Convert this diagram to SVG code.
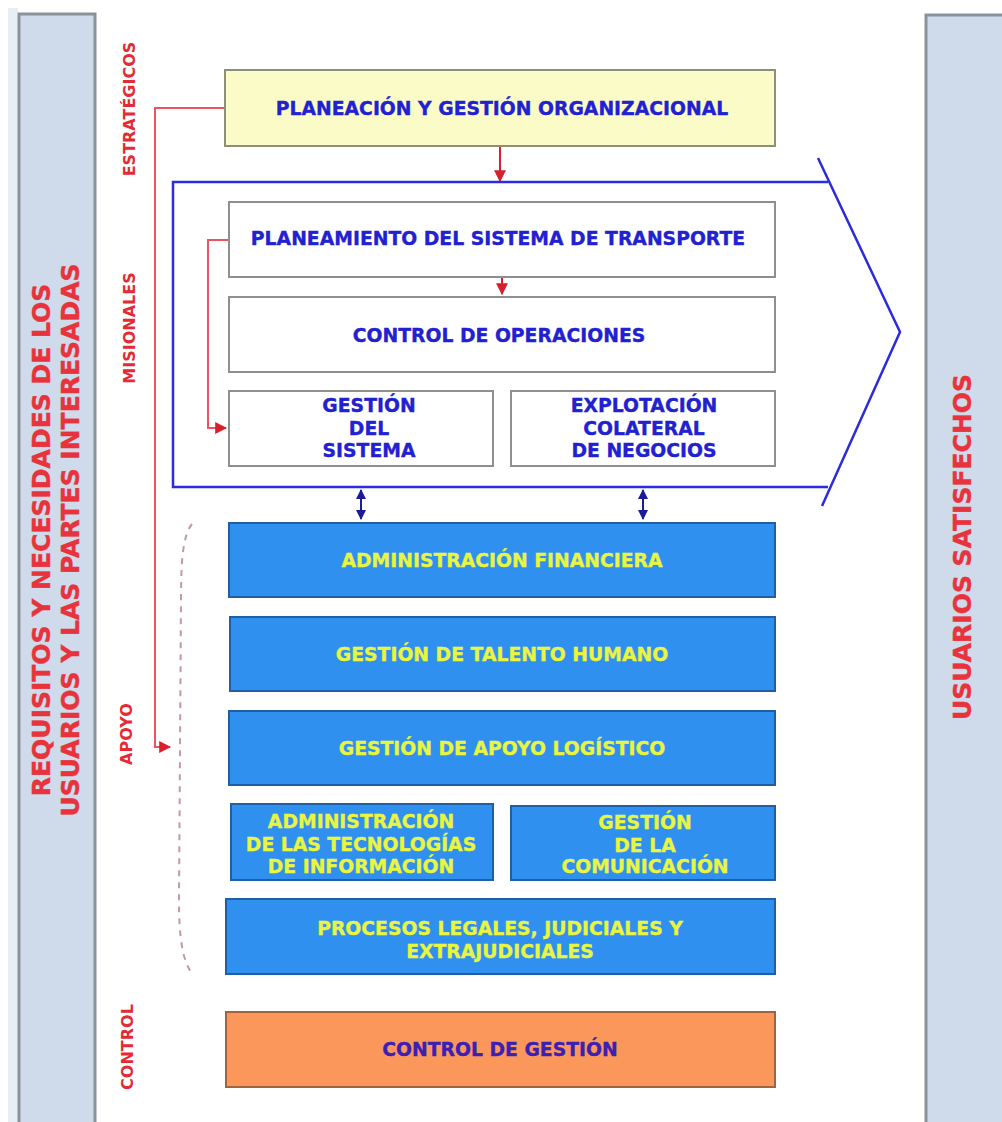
<svg xmlns="http://www.w3.org/2000/svg" width="1002" height="1122" viewBox="0 0 1002 1122">
<defs>
<style>
text{font-family:"DejaVu Sans",Verdana,"Liberation Sans",sans-serif;font-weight:bold;text-anchor:middle}
.bar{fill:#cfdbeb;stroke:#8a929c;stroke-width:3}
.side{fill:#e8323c;stroke:#e8323c;stroke-width:0.4;font-size:25px}
.lab{fill:#e32a35;font-size:16px}
.ybox{fill:#fbfbc8;stroke:#8e8e7c;stroke-width:2}
.wbox{fill:#ffffff;stroke:#8f8f8f;stroke-width:2}
.bbox{fill:#3090f0;stroke:#1f5fa6;stroke-width:2}
.obox{fill:#fb975a;stroke:#a0643f;stroke-width:2}
.bt{fill:#2121d2;stroke:#2121d2;stroke-width:0.35;font-size:18.8px}
.yt{fill:#e9f53e;stroke:#e9f53e;stroke-width:0.35;font-size:18.8px}
.ct{fill:#3c20b4;stroke:#3c20b4;stroke-width:0.35;font-size:18.8px}
.red{fill:none;stroke:#ec5560;stroke-width:2}
.redA{fill:none;stroke:#d8202c;stroke-width:2}
.blueL{fill:none;stroke:#2b2be0;stroke-width:2.5}
.dbl{fill:none;stroke:#1a1a9a;stroke-width:2}
</style>
<marker id="ra" viewBox="0 0 10 10" refX="9" refY="5" markerWidth="6" markerHeight="6" orient="auto"><path d="M0,0 L10,5 L0,10 z" fill="#d8202c"/></marker>
<marker id="ba" viewBox="0 0 10 10" refX="9" refY="5" markerWidth="5" markerHeight="5" orient="auto-start-reverse"><path d="M0,0 L10,5 L0,10 z" fill="#1a1a9a"/></marker>
</defs>
<rect x="0" y="0" width="1002" height="1122" fill="#ffffff"/>
<rect x="8" y="8" width="10" height="1114" fill="#e8eef6"/>

<g id="left-bar">
<rect class="bar" x="19" y="14" width="76" height="1112"/>
<text class="side" transform="translate(50,540) rotate(-90)">REQUISITOS Y NECESIDADES DE LOS</text>
<text class="side" transform="translate(79,540) rotate(-90)">USUARIOS Y LAS PARTES INTERESADAS</text>
</g>
<g id="right-bar">
<rect class="bar" x="926" y="15" width="80" height="1112"/>
<text class="side" transform="translate(971,547) rotate(-90)">USUARIOS SATISFECHOS</text>
</g>

<g id="labels">
<text class="lab" transform="translate(135,109) rotate(-90)">ESTRATÉGICOS</text>
<text class="lab" transform="translate(135,328) rotate(-90)">MISIONALES</text>
<text class="lab" transform="translate(132,734) rotate(-90)">APOYO</text>
<text class="lab" transform="translate(133,1047) rotate(-90)">CONTROL</text>
</g>

<g id="connectors">
<polyline class="red" points="225,108 155,108 155,747 170,747" marker-end="url(#ra)"/>
<line class="redA" x1="500" y1="146" x2="500" y2="181" marker-end="url(#ra)"/>
<polyline class="red" points="229,240 208,240 208,428 226,428" marker-end="url(#ra)"/>
<line class="redA" x1="502" y1="277" x2="502" y2="294" marker-end="url(#ra)"/>
<line class="dbl" x1="361" y1="490" x2="361" y2="519" marker-start="url(#ba)" marker-end="url(#ba)"/>
<line class="dbl" x1="643" y1="490" x2="643" y2="519" marker-start="url(#ba)" marker-end="url(#ba)"/>
<path d="M192,524 C183,535 181,560 181,600 L179,900 C179,940 183,960 191,972" fill="none" stroke="#c49aa2" stroke-width="2" stroke-dasharray="6,6"/>
</g>

<g id="misionales-frame">
<polyline class="blueL" points="828,182 173,182 173,487 828,487"/>
<polyline class="blueL" points="818,158 900,332 822,506"/>
</g>

<g id="planeacion">
<rect class="ybox" x="225" y="70" width="550" height="76"/>
<text class="bt" x="502" y="115">PLANEACIÓN Y GESTIÓN ORGANIZACIONAL</text>
</g>
<g id="planeamiento">
<rect class="wbox" x="229" y="202" width="546" height="75"/>
<text class="bt" x="498" y="245">PLANEAMIENTO DEL SISTEMA DE TRANSPORTE</text>
</g>
<g id="control-operaciones">
<rect class="wbox" x="229" y="297" width="546" height="75"/>
<text class="bt" x="499" y="342">CONTROL DE OPERACIONES</text>
</g>
<g id="gestion-sistema">
<rect class="wbox" x="229" y="391" width="264" height="75"/>
<text class="bt" x="369" y="412">GESTIÓN</text>
<text class="bt" x="369" y="435">DEL</text>
<text class="bt" x="369" y="457">SISTEMA</text>
</g>
<g id="explotacion">
<rect class="wbox" x="511" y="391" width="264" height="75"/>
<text class="bt" x="644" y="412">EXPLOTACIÓN</text>
<text class="bt" x="644" y="435">COLATERAL</text>
<text class="bt" x="644" y="457">DE NEGOCIOS</text>
</g>

<g id="admin-financiera">
<rect class="bbox" x="229" y="523" width="546" height="74"/>
<text class="yt" x="502" y="567">ADMINISTRACIÓN FINANCIERA</text>
</g>
<g id="talento-humano">
<rect class="bbox" x="230" y="617" width="545" height="74"/>
<text class="yt" x="502" y="661">GESTIÓN DE TALENTO HUMANO</text>
</g>
<g id="apoyo-logistico">
<rect class="bbox" x="229" y="711" width="546" height="74"/>
<text class="yt" x="502" y="755">GESTIÓN DE APOYO LOGÍSTICO</text>
</g>
<g id="tecnologias">
<rect class="bbox" x="231" y="804" width="262" height="76"/>
<text class="yt" x="361" y="828">ADMINISTRACIÓN</text>
<text class="yt" x="361" y="851">DE LAS TECNOLOGÍAS</text>
<text class="yt" x="361" y="873">DE INFORMACIÓN</text>
</g>
<g id="comunicacion">
<rect class="bbox" x="511" y="806" width="264" height="74"/>
<text class="yt" x="645" y="829">GESTIÓN</text>
<text class="yt" x="645" y="852">DE LA</text>
<text class="yt" x="645" y="873">COMUNICACIÓN</text>
</g>
<g id="procesos-legales">
<rect class="bbox" x="226" y="899" width="549" height="75"/>
<text class="yt" x="500" y="935">PROCESOS LEGALES, JUDICIALES Y</text>
<text class="yt" x="500" y="958">EXTRAJUDICIALES</text>
</g>
<g id="control-gestion">
<rect class="obox" x="226" y="1012" width="549" height="75"/>
<text class="ct" x="500" y="1056">CONTROL DE GESTIÓN</text>
</g>
</svg>
